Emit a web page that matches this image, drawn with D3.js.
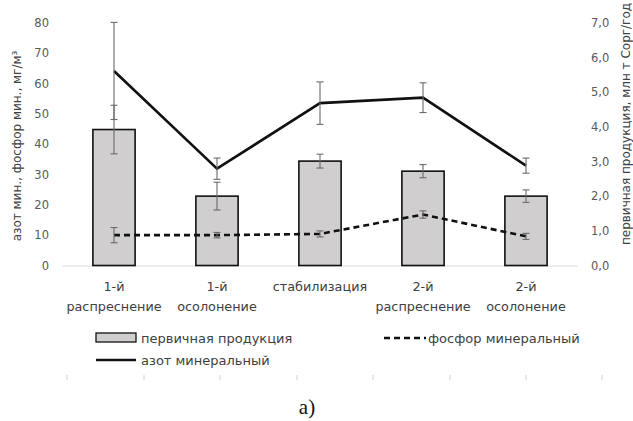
<!DOCTYPE html>
<html>
<head>
<meta charset="utf-8">
<script src="https://cdn.jsdelivr.net/npm/d3@7"></script>
<style>
  html, body { margin: 0; padding: 0; background: #fff; }
  svg { display: block; }
  text { font-family: "DejaVu Sans", "Open Sans", sans-serif; }
</style>
</head>
<body>
<svg id="chart" width="633" height="421"></svg>
<script>
// Stages of the hydrological cycle
const stages = [["1-й", "распреснение"], ["1-й", "осолонение"], ["стабилизация"], ["2-й", "распреснение"], ["2-й", "осолонение"]];
// Primary production, mln t Corg/year (right axis)
const production = [3.92, 2.0, 3.01, 2.72, 2.0];
const productionErr = [0.7, 0.4, 0.2, 0.19, 0.18];
// Mineral nitrogen, mg/m3 (left axis)
const nitrogen = [64.1, 31.9, 53.5, 55.3, 32.9];
const nitrogenErr = [16, 3.5, 7, 4.9, 2.5];
// Mineral phosphorus, mg/m3 (left axis)
const phosphorus = [10.0, 10.0, 10.4, 16.8, 9.6];
const phosphorusErr = [2.5, 0.9, 1.0, 1.2, 1.0];
// Axis ticks
const leftTicks = [0, 10, 20, 30, 40, 50, 60, 70, 80];
const rightTicks = [0, 1, 2, 3, 4, 5, 6, 7];

const svg = d3.select("#chart");
const M = { left: 62.5, right: 577.5, top: 22.7, bottom: 265.5 };

const x = d3.scaleBand().domain(d3.range(stages.length)).range([M.left, M.right]).paddingInner(0.59).paddingOuter(0.295);
const xc = i => x(i) + x.bandwidth() / 2;
const yL = d3.scaleLinear().domain([0, 80]).range([M.bottom, M.top]);
const yR = d3.scaleLinear().domain([0, 7]).range([M.bottom, M.top]);

const tickColor = "#595959";
const textColor = "#404040";
const errColor = "#6a6a6a";

// Baseline
svg.append("line").attr("x1", M.left).attr("x2", M.right)
  .attr("y1", M.bottom + 0.5).attr("y2", M.bottom + 0.5)
  .attr("stroke", "#d9d9d9").attr("stroke-width", 1);

// Left axis labels
const gL = svg.append("g").attr("transform", `translate(49,0)`)
  .call(d3.axisLeft(yL).tickValues(leftTicks).tickSize(0).tickPadding(0));
gL.select(".domain").remove();
gL.selectAll("text").attr("fill", tickColor).style("font-size", "11.5px").attr("font-family", "DejaVu Sans, sans-serif");

// Right axis labels
const gR = svg.append("g").attr("transform", `translate(591,0)`)
  .call(d3.axisRight(yR).tickValues(rightTicks).tickSize(0).tickPadding(0)
    .tickFormat(d => d3.format(".1f")(d).replace(".", ",")));
gR.select(".domain").remove();
gR.selectAll("text").attr("fill", tickColor).style("font-size", "11.5px").attr("font-family", "DejaVu Sans, sans-serif");

// Axis titles
svg.append("text").attr("transform", `translate(21,146) rotate(-90)`)
  .attr("text-anchor", "middle").attr("fill", textColor).style("font-size", "12px")
  .text("азот мин., фосфор мин., мг/м³");
svg.append("text").attr("transform", `translate(630,124) rotate(-90)`)
  .attr("text-anchor", "middle").attr("fill", textColor).style("font-size", "12px")
  .text("первичная продукция, млн т Сорг/год");

// Bars: primary production
svg.append("g").selectAll("rect").data(production).join("rect")
  .attr("x", (d, i) => x(i)).attr("width", x.bandwidth())
  .attr("y", d => yR(d)).attr("height", d => yR(0) - yR(d))
  .attr("fill", "#d0cece").attr("stroke", "#111").attr("stroke-width", 1.6);

// Error bar helper
function errorBars(vals, errs, scale) {
  const g = svg.append("g").attr("stroke", errColor).attr("stroke-width", 1.1).attr("fill", "none");
  vals.forEach((v, i) => {
    const cx = xc(i), y1 = scale(v + errs[i]), y2 = scale(v - errs[i]);
    g.append("line").attr("x1", cx).attr("x2", cx).attr("y1", y1).attr("y2", y2);
    g.append("line").attr("x1", cx - 3.5).attr("x2", cx + 3.5).attr("y1", y1).attr("y2", y1);
    g.append("line").attr("x1", cx - 3.5).attr("x2", cx + 3.5).attr("y1", y2).attr("y2", y2);
  });
}
errorBars(production, productionErr, yR);

// Lines
const lineL = d3.line().x((d, i) => xc(i)).y(d => yL(d));
svg.append("path").datum(phosphorus).attr("d", lineL)
  .attr("fill", "none").attr("stroke", "#111").attr("stroke-width", 2.6).attr("stroke-dasharray", "6,4");
svg.append("path").datum(nitrogen).attr("d", lineL)
  .attr("fill", "none").attr("stroke", "#111").attr("stroke-width", 2.6).attr("stroke-linejoin", "miter");
errorBars(phosphorus, phosphorusErr, yL);
errorBars(nitrogen, nitrogenErr, yL);

// Category labels
const catG = svg.append("g").attr("fill", textColor).style("font-size", "12.8px").attr("text-anchor", "middle");
stages.forEach((lines, i) => {
  const t = catG.append("text").attr("x", xc(i)).attr("y", 291);
  lines.forEach((s, k) => t.append("tspan").attr("x", xc(i)).attr("dy", k === 0 ? 0 : 20).text(s));
});

// Legend
const lg = svg.append("g").style("font-size", "13px").attr("fill", textColor);
lg.append("rect").attr("x", 96).attr("y", 333).attr("width", 40).attr("height", 9)
  .attr("fill", "#d0cece").attr("stroke", "#111").attr("stroke-width", 1.3);
lg.append("text").attr("x", 141).attr("y", 343).text("первичная продукция");
lg.append("line").attr("x1", 384).attr("x2", 426).attr("y1", 338).attr("y2", 338)
  .attr("stroke", "#111").attr("stroke-width", 2.6).attr("stroke-dasharray", "6,4");
lg.append("text").attr("x", 428).attr("y", 343).text("фосфор минеральный");
lg.append("line").attr("x1", 96).attr("x2", 136).attr("y1", 360).attr("y2", 360)
  .attr("stroke", "#111").attr("stroke-width", 2.6);
lg.append("text").attr("x", 141).attr("y", 365).text("азот минеральный");

// Faint frame ticks below legend
const frameTicks = [67, 144, 220, 297, 373, 450, 526, 602];
svg.append("g").selectAll("line").data(frameTicks).join("line")
  .attr("x1", d => d).attr("x2", d => d).attr("y1", 375).attr("y2", 380)
  .attr("stroke", "#d0d0d0").attr("stroke-width", 1);

// Panel label
svg.append("text").attr("x", 307).attr("y", 414).attr("text-anchor", "middle")
  .style("font-family", "'Liberation Serif', 'DejaVu Serif', serif").style("font-size", "21px").attr("fill", "#111")
  .text("а)");
</script>
</body>
</html>
